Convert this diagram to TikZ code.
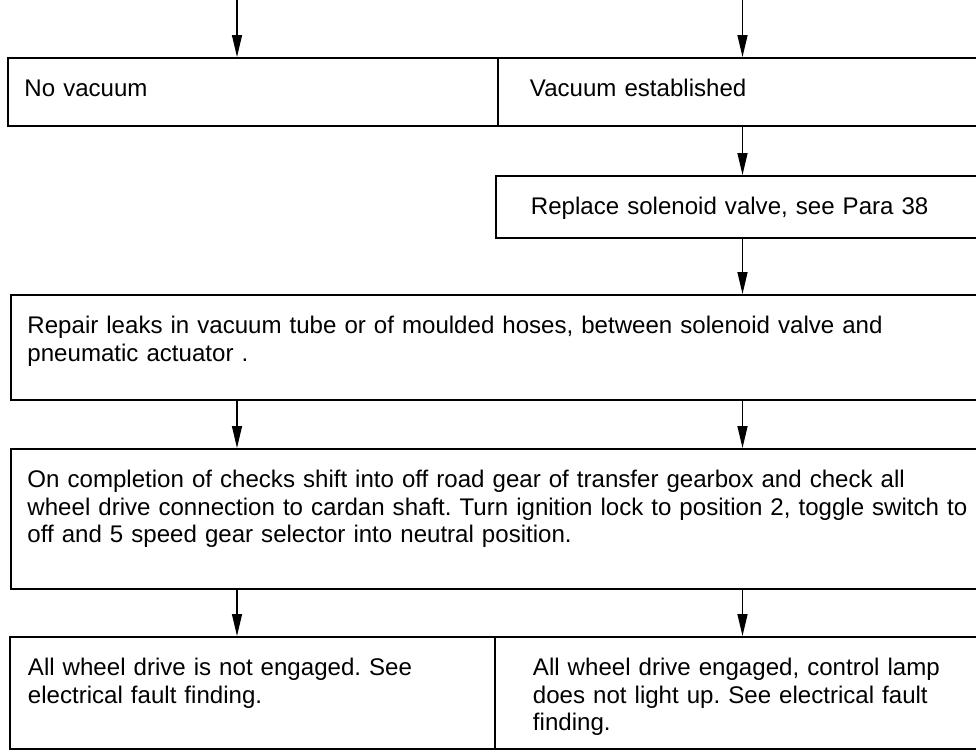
\documentclass[tikz,border=0pt]{standalone}
\usepackage{fontspec}
\setmainfont{Liberation Sans}
\usepackage{tikz}
\usetikzlibrary{arrows.meta}

\begin{document}
\frenchspacing
\begin{tikzpicture}
\tikzstyle{stepbox} = [rectangle, draw=black, line width=1.1pt, anchor=north west, align=left, inner ysep=0pt, inner xsep=0.33cm, text height=0.77cm, font=\fontsize{13.7}{15.7}\selectfont]
\tikzstyle{arrow} = [line width=0.8pt,->,>={Triangle[length=4.4mm,width=2mm]}]

\useasboundingbox (0,0) rectangle (19.52,-15);

%columns
\coordinate (in1) at (4.74,0);
\coordinate (in2) at (14.85,0);

%nodes
\node (novac) [stepbox, text width=9.14cm, text depth=0.59cm] at (0.14,-1.14) {No vacuum};
\node (vacest) [stepbox, inner xsep=0.64cm, text width=8.38cm, text depth=0.59cm] at (9.94,-1.14) {Vacuum established};
\node (replace) [stepbox, inner xsep=0.7cm, text width=8.3cm, text depth=0.47cm] at (9.9,-3.5) {Replace solenoid valve, see Para 38};
\node (repair) [stepbox, text width=19cm, text depth=1.33cm] at (0.2,-5.88) {Repair leaks in vacuum tube or of moulded hoses, between solenoid valve and\\ pneumatic actuator .};
\node (checks) [stepbox, text width=19cm, text depth=2.03cm] at (0.2,-8.96) {On completion of checks shift into off road gear of transfer gearbox and check all\\ wheel drive connection to cardan shaft. Turn ignition lock to position 2, toggle switch to\\ off and 5 speed gear selector into neutral position.};
\node (noteng) [stepbox, inner xsep=0.36cm, text width=8.98cm, text depth=1.47cm] at (0.18,-12.72) {All wheel drive is not engaged. See\\ electrical fault finding.};
\node (eng) [stepbox, inner xsep=0.76cm, text width=8.2cm, text depth=1.47cm] at (9.88,-12.72) {All wheel drive engaged, control lamp\\ does not light up. See electrical fault\\ finding.};

%arrows
\draw [arrow] (in1) -- (in1 |- novac.north);
\draw [arrow] (in2) -- (in2 |- vacest.north);
\draw [arrow] (in2 |- vacest.south) -- (in2 |- replace.north);
\draw [arrow] (in2 |- replace.south) -- (in2 |- repair.north);
\draw [arrow] (in1 |- repair.south) -- (in1 |- checks.north);
\draw [arrow] (in2 |- repair.south) -- (in2 |- checks.north);
\draw [arrow] (in1 |- checks.south) -- (in1 |- noteng.north);
\draw [arrow] (in2 |- checks.south) -- (in2 |- eng.north);
\end{tikzpicture}
\end{document}
